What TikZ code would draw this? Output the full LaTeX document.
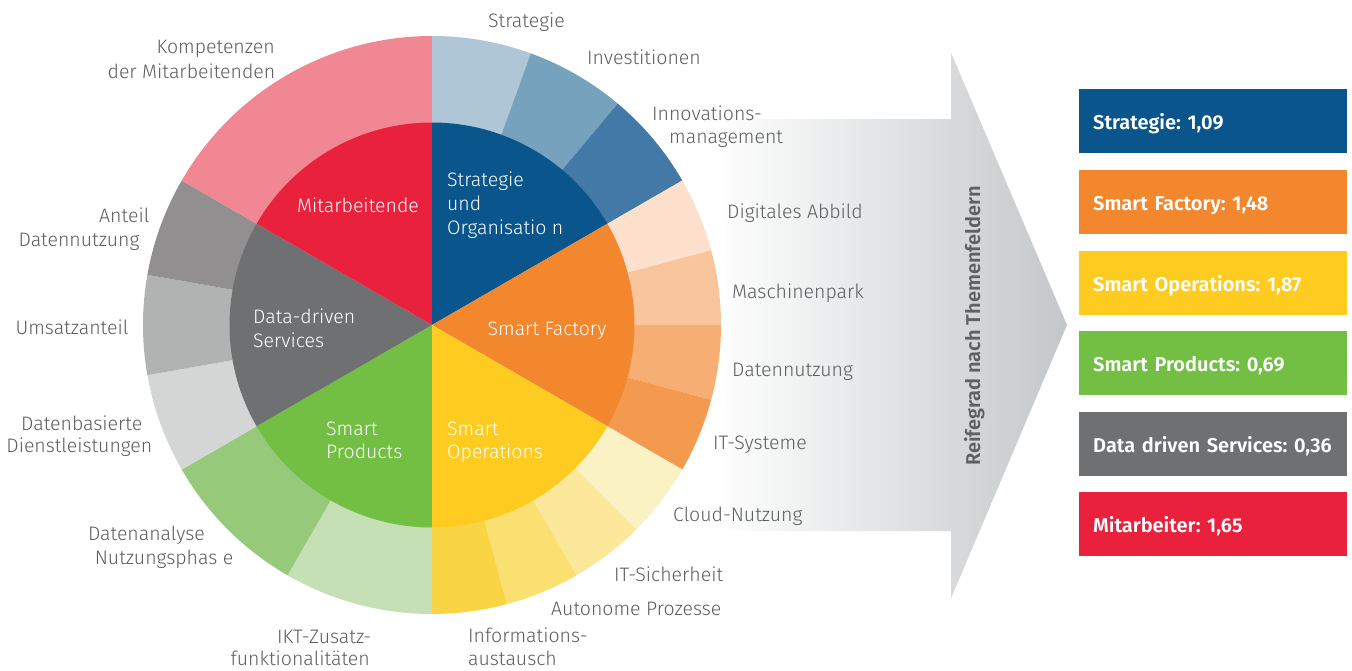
\documentclass[tikz,border=0pt]{standalone}
\usepackage{fontspec}
\setmainfont{Fira Sans Light}[BoldFont={Fira Sans SemiBold}]
\frenchspacing
\definecolor{cSO}{HTML}{0A558C}
\definecolor{cSF}{HTML}{F2872E}
\definecolor{cOP}{HTML}{FECC21}
\definecolor{cSP}{HTML}{72BF44}
\definecolor{cDS}{HTML}{6F7072}
\definecolor{cMA}{HTML}{E9213C}
\definecolor{oA}{HTML}{AFC6D6}
\definecolor{oB}{HTML}{77A2BD}
\definecolor{oC}{HTML}{4279A6}
\definecolor{oD}{HTML}{FCE0CB}
\definecolor{oE}{HTML}{F9C59C}
\definecolor{oF}{HTML}{F6AE73}
\definecolor{oG}{HTML}{F39A4E}
\definecolor{oH}{HTML}{FAF1C4}
\definecolor{oI}{HTML}{FBE89B}
\definecolor{oJ}{HTML}{FAE070}
\definecolor{oK}{HTML}{F9D545}
\definecolor{oL}{HTML}{96C97A}
\definecolor{oM}{HTML}{C5E0B5}
\definecolor{oN}{HTML}{D4D6D5}
\definecolor{oO}{HTML}{B1B3B2}
\definecolor{oP}{HTML}{928F90}
\definecolor{oQ}{HTML}{F18793}
\definecolor{lblgrey}{HTML}{5B5C5E}
\definecolor{reifegrey}{HTML}{5E6062}
\definecolor{arrmid}{HTML}{D3D6D7}
\definecolor{arrend}{HTML}{C4C7C9}
\newcommand{\ringseg}[3]{\fill[#1] (#2:202) arc[start angle=#2, end angle=#3, radius=202] -- (#3:289) arc[start angle=#3, end angle=#2, radius=289] -- cycle;}
\newcommand{\innerseg}[3]{\fill[#1] (0,0) -- (#2:202.5) arc[start angle=#2, end angle=#3, radius=202.5] -- cycle;}
\tikzset{
  lbl/.style={text=lblgrey, font=\fontsize{19.5}{24}\selectfont, inner sep=0pt},
  inl/.style={text=white, font=\fontsize{19.5}{24}\selectfont, inner sep=0pt},
  scorebox/.style={anchor=north west, minimum width=268pt, minimum height=63.5pt,
    text width=240pt, inner xsep=14pt, inner ysep=0pt, align=left,
    text height=16.5pt, text depth=0pt, text=white,
    font=\bfseries\fontsize{20}{22}\selectfont},
  reife/.style={text=reifegrey, inner sep=0pt, font=\bfseries\fontsize{20}{24}\selectfont}
}
\begin{document}
\begin{tikzpicture}[x=1pt,y=1pt]
\useasboundingbox (-432,-345) rectangle (920,325);
% arrow
\shade[left color=white, middle color=arrmid, right color=arrend]
  (283,206) -- (519,206) -- (519,272.5) -- (635,0) -- (519,-273.5) -- (519,-206) -- (283,-206) -- cycle;
% outer ring
\ringseg{oA}{70}{90}
\ringseg{oB}{50}{70}
\ringseg{oC}{30}{50}
\ringseg{oD}{15}{30}
\ringseg{oE}{0}{15}
\ringseg{oF}{-15}{0}
\ringseg{oG}{-30}{-15}
\ringseg{oH}{-45}{-30}
\ringseg{oI}{-60}{-45}
\ringseg{oJ}{-75}{-60}
\ringseg{oK}{-90}{-75}
\ringseg{oM}{240}{270}
\ringseg{oL}{210}{240}
\ringseg{oN}{190}{210}
\ringseg{oO}{170}{190}
\ringseg{oP}{150}{170}
\ringseg{oQ}{90}{150}
% inner pie
\innerseg{cSO}{30}{90}
\innerseg{cSF}{-30}{30}
\innerseg{cOP}{-90}{-30}
\innerseg{cSP}{210}{270}
\innerseg{cDS}{150}{210}
\innerseg{cMA}{90}{150}
% rotated arrow label
\node[reife, anchor=base, rotate=90] (reifegrad) at (548,-1) {Reifegrad nach Themenfeldern};
% score boxes
\node[scorebox, fill=cSO] (bSO) at (647,236) {\mbox{Strategie: 1,09}};
\node[scorebox, fill=cSF] (bSF) at (647,155) {\mbox{Smart Factory: 1,48}};
\node[scorebox, fill=cOP] (bOP) at (647,74) {\mbox{Smart Operations: 1,87}};
\node[scorebox, fill=cSP] (bSP) at (647,-6) {\mbox{Smart Products: 0,69}};
\node[scorebox, fill=cDS] (bDS) at (647,-87) {\mbox{Data driven Services: 0,36}};
\node[scorebox, fill=cMA] (bMA) at (647,-167) {\mbox{Mitarbeiter: 1,65}};
% labels in pixel coordinates
\begin{scope}[shift={(-432,325)}, yscale=-1]
\node[lbl, anchor=base east] (kompA) at (275,54) {Kompetenzen};
\node[lbl, anchor=base east] (kompB) at (275.5,78) {der Mitarbeitenden};
\node[lbl, anchor=base west] (strat) at (488,28) {Strategie};
\node[lbl, anchor=base west] (inv) at (587,65) {Investitionen};
\node[lbl, anchor=base west] (innA) at (652,120) {Innovations-};
\node[lbl, anchor=base west] (innB) at (669,143.5) {management};
\node[lbl, anchor=base west] (dig) at (727,218) {Digitales Abbild};
\node[lbl, anchor=base west] (masch) at (732,298) {Maschinenpark};
\node[lbl, anchor=base west] (datn) at (732,376.5) {Datennutzung};
\node[lbl, anchor=base west] (itsys) at (713,449) {IT-Systeme};
\node[lbl, anchor=base west] (cloud) at (673,521.5) {Cloud-Nutzung};
\node[lbl, anchor=base west] (itsich) at (614,581.5) {IT-Sicherheit};
\node[lbl, anchor=base west] (auto) at (551,615.5) {Autonome Prozesse};
\node[lbl, anchor=base west] (infoA) at (468,642.5) {Informations-};
\node[lbl, anchor=base west] (infoB) at (468,665) {austausch};
\node[lbl, anchor=base east] (iktA) at (371.5,643) {IKT-Zusatz-};
\node[lbl, anchor=base east] (iktB) at (370,665.5) {funktionalitäten};
\node[lbl, anchor=base east] (danA) at (205,540) {Datenanalyse};
\node[lbl, anchor=base east] (danB) at (233.5,564) {Nutzungsphas e};
\node[lbl, anchor=base east] (dbA) at (142.5,430.5) {Datenbasierte};
\node[lbl, anchor=base east] (dbB) at (152.5,452) {Dienstleistungen};
\node[lbl, anchor=base east] (ums) at (128.5,334) {Umsatzanteil};
\node[lbl, anchor=base east] (antA) at (149.5,222.5) {Anteil};
\node[lbl, anchor=base east] (antB) at (139.5,246.5) {Datennutzung};
% inner labels
\node[inl, anchor=base] (mit) at (358,212) {Mitarbeitende};
\node[inl, anchor=base west] (soA) at (447,186) {Strategie};
\node[inl, anchor=base west] (soB) at (447,210) {und};
\node[inl, anchor=base west] (soC) at (447,234) {Organisatio n};
\node[inl, anchor=base] (sf) at (547,335) {Smart Factory};
\node[inl, anchor=base west] (opA) at (447,435) {Smart};
\node[inl, anchor=base west] (opB) at (447,458.5) {Operations};
\node[inl, anchor=base west] (spA) at (326,435) {Smart};
\node[inl, anchor=base west] (spB) at (326,458.5) {Products};
\node[inl, anchor=base west] (dsA) at (253,323) {Data-driven};
\node[inl, anchor=base west] (dsB) at (253,347) {Services};
\end{scope}
\end{tikzpicture}
\end{document}
